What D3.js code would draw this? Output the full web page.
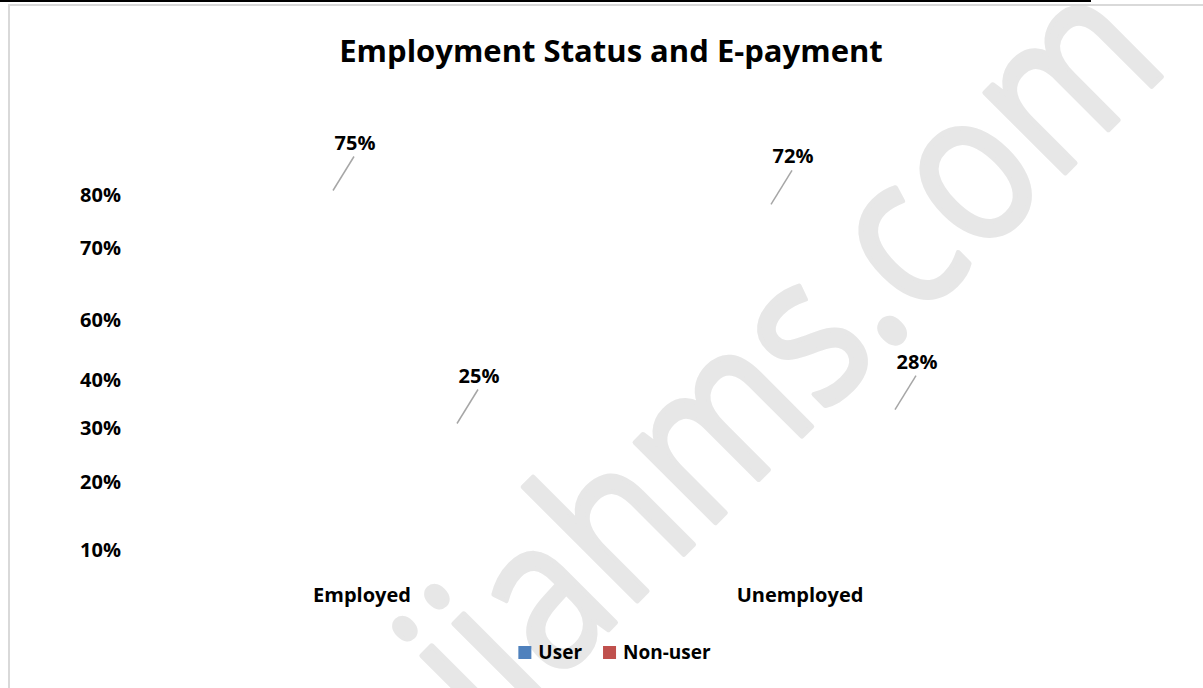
<!DOCTYPE html>
<html>
<head>
<meta charset="utf-8">
<script src="https://cdn.jsdelivr.net/npm/d3@7"></script>
<style>
  html, body { margin: 0; padding: 0; background: #ffffff; }
  svg { display: block; }
  text { font-family: "Open Sans", "DejaVu Sans", sans-serif; }
</style>
</head>
<body>
<svg id="chart" width="1203" height="688"></svg>
<script>
// ---- data ----
const categories = ["Employed", "Unemployed"];
const seriesNames = ["User", "Non-user"];
const userValues = [75, 72];
const nonUserValues = [25, 28];
const tickValues = [10, 20, 30, 40, 60, 70, 80];
const tickLabels = ["10%", "20%", "30%", "40%", "60%", "70%", "80%"];
const seriesColors = ["#4f81bd", "#c0504d"];
const titleText = "Employment Status and E-payment";
const watermarkText = "ijahms.com";

// ---- layout ----
const W = 1203, H = 688;
const svg = d3.select("#chart");

// faint diagonal site mark behind the chart
svg.append("text")
  .attr("transform", "translate(1172,66) rotate(-45) scale(0.85,1)")
  .attr("text-anchor", "end")
  .attr("font-size", 212)
  .attr("font-weight", 400)
  .attr("fill", "#e7e7e7")
  .attr("stroke", "#e7e7e7")
  .attr("stroke-width", 5)
  .attr("stroke-linejoin", "round")
  .text(watermarkText);

// page edge lines
svg.append("rect").attr("x", 0).attr("y", 0).attr("width", 1091).attr("height", 2).attr("fill", "#000");
svg.append("rect").attr("x", 9).attr("y", 5).attr("width", W + 20).attr("height", H + 20)
  .attr("fill", "none").attr("stroke", "#d9d9d9").attr("stroke-width", 2);

// title
svg.append("text")
  .attr("x", 611).attr("y", 62)
  .attr("text-anchor", "middle")
  .attr("font-size", 31).attr("font-weight", 700)
  .attr("fill", "#000")
  .text(titleText);

// value scale for the columns
const y = d3.scaleLinear().domain([0, 100]).range([540, 74]);

// category and series bands
const x0 = d3.scaleBand().domain(categories).range([143, 1019]);
const x1 = d3.scaleBand().domain(seriesNames).range([128, 376]);

// left axis labels
const yTick = d3.scaleLinear().domain(tickValues).range([550, 482, 428, 380, 320, 248, 195]);
const yAxis = svg.append("g")
  .attr("transform", "translate(121,0)")
  .call(d3.axisLeft(yTick).tickValues(tickValues)
    .tickFormat((d, i) => tickLabels[i]).tickSize(0).tickPadding(0));
yAxis.select(".domain").remove();
yAxis.selectAll("text")
  .attr("font-family", "'Open Sans', sans-serif")
  .attr("font-size", 20).attr("font-weight", 700).attr("fill", "#000");

// category axis labels
const xAxis = svg.append("g")
  .attr("transform", "translate(0,588)")
  .call(d3.axisBottom(x0).tickSize(0).tickPadding(0));
xAxis.select(".domain").remove();
xAxis.selectAll("text")
  .attr("font-family", "'Open Sans', sans-serif")
  .attr("font-size", 20).attr("font-weight", 700).attr("fill", "#000");

// data labels with leader lines
const points = [];
categories.forEach((c, i) => {
  points.push({ cat: c, series: "User", value: userValues[i] });
  points.push({ cat: c, series: "Non-user", value: nonUserValues[i] });
});

const lbl = svg.append("g").selectAll("g").data(points).join("g")
  .attr("transform", d => `translate(${x0(d.cat) + x1(d.series) + x1.bandwidth() / 2},${y(d.value)})`);

lbl.append("line")
  .attr("x1", 0).attr("y1", 0)
  .attr("x2", 21).attr("y2", -34)
  .attr("stroke", "#a6a6a6").attr("stroke-width", 1.5);

lbl.append("text")
  .attr("x", 22).attr("y", -41)
  .attr("text-anchor", "middle")
  .attr("font-size", 20).attr("font-weight", 700).attr("fill", "#000")
  .text(d => d.value + "%");

// legend
const legend = svg.append("g");
const items = legend.selectAll("g").data(seriesNames).join("g");
items.append("rect")
  .attr("width", 13).attr("height", 13).attr("y", -13)
  .attr("fill", (d, i) => seriesColors[i]);
items.append("text")
  .attr("x", 20).attr("y", 0)
  .attr("font-size", 19).attr("font-weight", 700).attr("fill", "#000")
  .text(d => d);
let off = 0;
items.each(function () {
  d3.select(this).attr("transform", `translate(${off},0)`);
  off += 20 + d3.select(this).select("text").node().getComputedTextLength() + 21;
});
const legendWidth = off - 21;
legend.attr("transform", `translate(${614.5 - legendWidth / 2},659)`);
</script>
</body>
</html>
